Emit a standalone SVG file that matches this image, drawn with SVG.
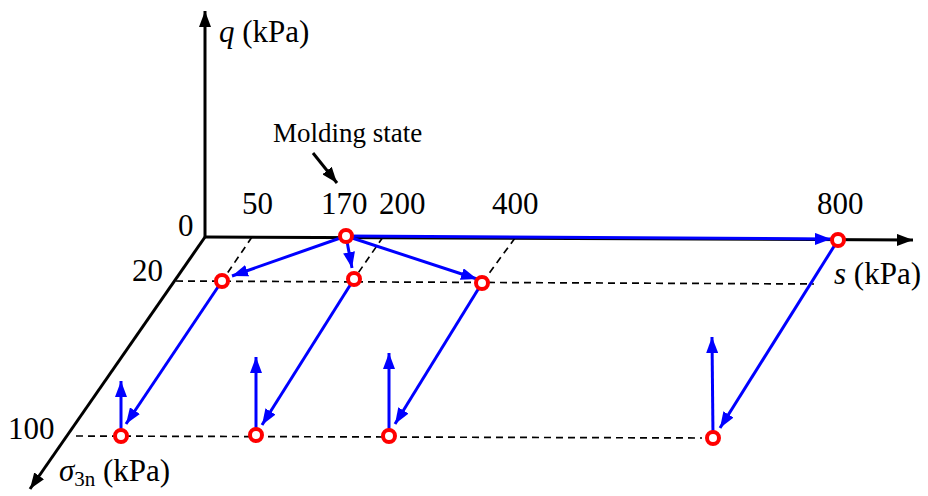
<svg xmlns="http://www.w3.org/2000/svg" width="928" height="496" viewBox="0 0 928 496">
<defs>
<style>
.t{font-family:"Liberation Serif","Times New Roman",serif;font-size:31px;fill:#000}
.ax{stroke:#000;stroke-width:3;fill:none}
.dash{stroke:#000;stroke-width:1.7;stroke-dasharray:7 5;fill:none}
.bl{stroke:#0000FF;stroke-width:3;fill:none}
.pt{stroke:#FF0000;stroke-width:4;fill:#fff}
</style>
<marker id="ka" markerUnits="userSpaceOnUse" viewBox="0 0 16 12" refX="16" refY="6" markerWidth="16" markerHeight="12" orient="auto"><path d="M0,0 L16,6 L0,12 z" fill="#000"/></marker>
<marker id="ba" markerUnits="userSpaceOnUse" viewBox="0 0 16 12" refX="16" refY="6" markerWidth="16" markerHeight="12" orient="auto"><path d="M0,0 L16,6 L0,12 z" fill="#0000FF"/></marker>
</defs>
<rect width="928" height="496" fill="#fff"/>
<g id="axes">
<line class="ax" x1="205" y1="237" x2="205" y2="11" marker-end="url(#ka)"/>
<line class="ax" x1="205" y1="237" x2="913" y2="240" marker-end="url(#ka)"/>
<line class="ax" x1="205" y1="237" x2="30" y2="489" marker-end="url(#ka)"/>
</g>
<g id="gridlines">
<line class="dash" x1="176" y1="281" x2="814" y2="284"/>
<line class="dash" x1="76" y1="436" x2="702" y2="438"/>
<line class="dash" x1="252" y1="237" x2="222" y2="281"/>
<line class="dash" x1="383" y1="237" x2="354" y2="279"/>
<line class="dash" x1="515" y1="238" x2="482" y2="283"/>
</g>
<g id="connectors">
<line class="bl" x1="346" y1="236" x2="232" y2="276" marker-end="url(#ba)"/>
<line class="bl" x1="346" y1="236" x2="352" y2="268" marker-end="url(#ba)"/>
<line class="bl" x1="346" y1="236" x2="477" y2="279" marker-end="url(#ba)"/>
<line class="bl" x1="346" y1="236" x2="831" y2="239" marker-end="url(#ba)"/>
<line class="bl" x1="222" y1="281" x2="126" y2="424" marker-end="url(#ba)"/>
<line class="bl" x1="354" y1="279" x2="262" y2="425" marker-end="url(#ba)"/>
<line class="bl" x1="482" y1="283" x2="395" y2="424" marker-end="url(#ba)"/>
<line class="bl" x1="838" y1="240" x2="720" y2="428" marker-end="url(#ba)"/>
<line class="bl" x1="121" y1="436" x2="121" y2="381" marker-end="url(#ba)"/>
<line class="bl" x1="256" y1="435" x2="256" y2="357" marker-end="url(#ba)"/>
<line class="bl" x1="389" y1="435" x2="389" y2="353" marker-end="url(#ba)"/>
<line class="bl" x1="713" y1="437" x2="712" y2="337" marker-end="url(#ba)"/>
<line stroke="#000" stroke-width="3" x1="313" y1="153" x2="337" y2="183" marker-end="url(#ka)"/>
</g>
<g id="molding"><circle class="pt" cx="346" cy="236" r="6"/></g>
<g id="p20-50"><circle class="pt" cx="222" cy="281" r="6"/></g>
<g id="p20-170"><circle class="pt" cx="354" cy="279" r="6"/></g>
<g id="p20-400"><circle class="pt" cx="482" cy="283" r="6"/></g>
<g id="p0-800"><circle class="pt" cx="838" cy="240" r="6"/></g>
<g id="p100-50"><circle class="pt" cx="121" cy="436" r="6"/></g>
<g id="p100-170"><circle class="pt" cx="256" cy="435" r="6"/></g>
<g id="p100-400"><circle class="pt" cx="389" cy="436" r="6"/></g>
<g id="p100-800"><circle class="pt" cx="713" cy="438" r="6"/></g>
<g id="labels">
<text class="t" x="219" y="42"><tspan font-style="italic">q</tspan> (kPa)</text>
<text class="t" x="273" y="142" style="font-size:27px">Molding state</text>
<text class="t" x="178" y="236">0</text>
<text class="t" x="242" y="214">50</text>
<text class="t" x="321" y="214">170</text>
<text class="t" x="379" y="214">200</text>
<text class="t" x="492" y="214">400</text>
<text class="t" x="817" y="214">800</text>
<text class="t" x="132" y="281">20</text>
<text class="t" x="8" y="439">100</text>
<text class="t" x="834" y="284"><tspan font-style="italic">s</tspan> (kPa)</text>
<text class="t" x="59" y="481"><tspan font-style="italic">σ</tspan><tspan style="font-size:21px" dy="5">3n</tspan><tspan dy="-5"> (kPa)</tspan></text>
</g>
</svg>
